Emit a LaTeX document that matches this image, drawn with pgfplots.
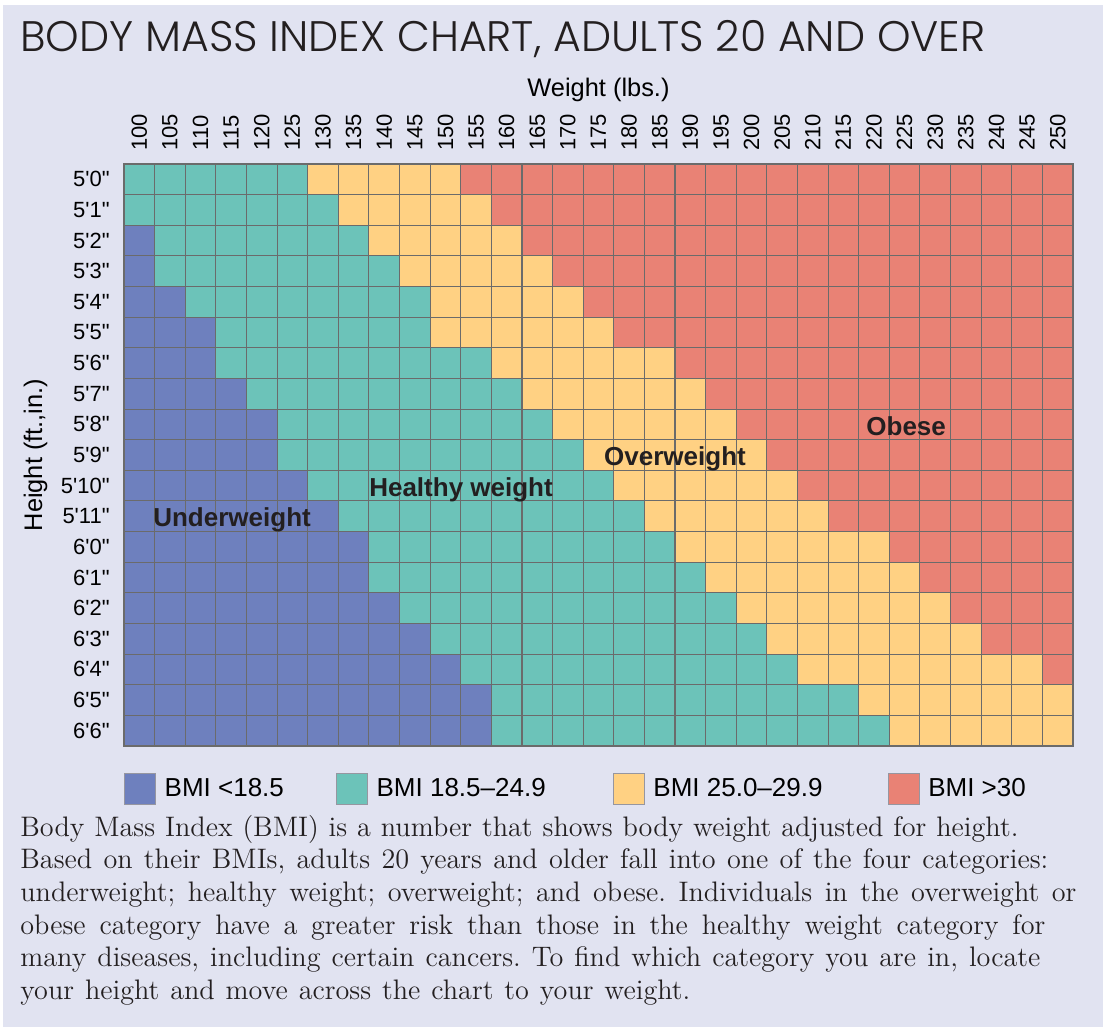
\documentclass[border=0pt]{standalone}
\usepackage{fontspec}
\usepackage{pgfplots}
\pgfplotsset{compat=1.18}
\newfontfamily\lsans{Liberation Sans}
\newfontfamily\titlefont{Poppins Light}
\definecolor{bg}{RGB}{225,227,241}
\definecolor{uw}{RGB}{110,128,190}
\definecolor{hw}{RGB}{108,195,185}
\definecolor{ow}{RGB}{255,209,131}
\definecolor{ob}{RGB}{233,130,117}
\definecolor{gridc}{RGB}{107,107,107}
\definecolor{legb}{RGB}{150,150,160}
\definecolor{ink}{RGB}{35,31,32}
\pgfplotsset{
  mylegend/.style={legend image code/.code={\draw[##1, draw=legb, line width=0.6pt] (0pt,-7.75pt) rectangle (15.5pt,7.75pt);}}
}
\frenchspacing
\begin{document}
\begin{tikzpicture}
\useasboundingbox (0pt,0pt) rectangle (551.5pt,-513.5pt);
\fill[white] (0pt,0pt) rectangle (551.5pt,-513.5pt);
\fill[bg] (1.5pt,-2.5pt) rectangle (551.5pt,-513.5pt);
\node[anchor=base west, inner sep=0pt, text=ink, font=\titlefont\fontsize{21.5}{24}\selectfont] at (10pt,-26pt) {\resizebox{482.5pt}{!}{BODY MASS INDEX CHART, ADULTS 20 AND OVER}};
\begin{axis}[
  at={(62pt,-82pt)}, anchor=north west,
  scale only axis, width=474.5pt, height=291pt,
  xbar stacked, bar width=1,
  xmin=0, xmax=31, ymin=-0.5, ymax=18.5,
  xtick={0.5,1.5,...,30.5},
  xticklabels={100,105,110,115,120,125,130,135,140,145,150,155,160,165,170,175,180,185,190,195,200,205,210,215,220,225,230,235,240,245,250},
  xticklabel pos=upper,
  xticklabel shift=6.5pt,
  xticklabel style={rotate=90, anchor=west, inner sep=0pt},
  ytick={0,1,...,18},
  yticklabels={6\textquotesingle6",6\textquotesingle5",6\textquotesingle4",6\textquotesingle3",6\textquotesingle2",6\textquotesingle1",6\textquotesingle0",5\textquotesingle11",5\textquotesingle10",5\textquotesingle9",5\textquotesingle8",5\textquotesingle7",5\textquotesingle6",5\textquotesingle5",5\textquotesingle4",5\textquotesingle3",5\textquotesingle2",5\textquotesingle1",5\textquotesingle0"},
  yticklabel shift=7pt,
  yticklabel style={anchor=east, inner sep=0pt},
  tick label style={font=\lsans\fontsize{11}{13}\selectfont, text=black},
  /pgf/number format/assume math mode=true,
  major tick length=0pt, minor tick length=0pt,
  minor xtick={1,2,...,30},
  minor ytick={0.5,1.5,...,17.5},
  xminorgrids=true, yminorgrids=true,
  minor grid style={draw=gridc, line width=0.55pt},
  axis line style={draw=gridc, line width=0.8pt},
  axis on top,
  every axis x label/.style={at={(axis description cs:0.5,1)}, anchor=base, yshift=33.5pt, font=\lsans\fontsize{12.7}{15}\selectfont},
  every axis y label/.style={at={(axis description cs:0,0.5)}, rotate=90, anchor=base, yshift=41pt, font=\lsans\fontsize{12.7}{15}\selectfont},
  xlabel={Weight (lbs.)},
  ylabel={Height (ft.,in.)},
  legend cell align=left,
  legend style={at={(axis description cs:0,0)}, anchor=north west, yshift=-13.5pt,
    draw=none, fill=none, inner sep=0pt, outer sep=0pt, legend columns=4,
    font=\lsans\fontsize{13}{15}\selectfont, nodes={inner sep=0pt},
    /tikz/every odd column/.append style={column sep=4.25pt},
    /tikz/column 2/.append style={column sep=26pt},
    /tikz/column 4/.append style={column sep=33.5pt},
    /tikz/column 6/.append style={column sep=32.5pt}},
]
\addplot[fill=uw, draw=none, mylegend] coordinates {(0,18) (0,17) (1,16) (1,15) (2,14) (3,13) (3,12) (4,11) (5,10) (5,9) (6,8) (7,7) (8,6) (8,5) (9,4) (10,3) (11,2) (12,1) (12,0)};
\addlegendentry{BMI <18.5}
\addplot[fill=hw, draw=none, mylegend] coordinates {(6,18) (7,17) (7,16) (8,15) (8,14) (7,13) (9,12) (9,11) (9,10) (10,9) (10,8) (10,7) (10,6) (11,5) (11,4) (11,3) (11,2) (12,1) (13,0)};
\addlegendentry{BMI 18.5–24.9}
\addplot[fill=ow, draw=none, mylegend] coordinates {(5,18) (5,17) (5,16) (5,15) (5,14) (6,13) (6,12) (6,11) (6,10) (6,9) (6,8) (6,7) (7,6) (7,5) (7,4) (7,3) (8,2) (7,1) (6,0)};
\addlegendentry{BMI 25.0–29.9}
\addplot[fill=ob, draw=none, mylegend] coordinates {(20,18) (19,17) (18,16) (17,15) (16,14) (15,13) (13,12) (12,11) (11,10) (10,9) (9,8) (8,7) (6,6) (5,5) (4,4) (3,3) (1,2) (0,1) (0,0)};
\addlegendentry{BMI >30}
\coordinate (labU) at (axis cs:3.53,7);
\coordinate (labH) at (axis cs:11.01,8);
\coordinate (labO) at (axis cs:18.0,9);
\coordinate (labOb) at (axis cs:25.55,10);
\end{axis}
\begin{scope}[every node/.style={font=\lsans\bfseries\fontsize{13}{15}\selectfont, text=ink, inner sep=0pt, yshift=-2pt}]
\node at (labU) {Underweight};
\node at (labH) {Healthy weight};
\node at (labO) {Overweight};
\node at ([yshift=1pt]labOb) {Obese};
\end{scope}
\begin{scope}[every node/.style={anchor=base west, inner sep=0pt, text=ink, font=\rmfamily\fontsize{14.1}{16}\selectfont}]
\node at (10pt,-418pt) {\makebox[499pt][s]{Body Mass Index (BMI) is a number that shows body weight adjusted for height.}};
\node at (10pt,-434.35pt) {\makebox[514pt][s]{Based on their BMIs, adults 20 years and older fall into one of the four categories:}};
\node at (10pt,-450.7pt) {\makebox[528pt][s]{underweight; healthy weight; overweight; and obese. Individuals in the overweight or}};
\node at (10pt,-467.05pt) {\makebox[512.5pt][s]{obese category have a greater risk than those in the healthy weight category for}};
\node at (10pt,-483.4pt) {\makebox[510pt][s]{many diseases, including certain cancers. To find which category you are in, locate}};
\node at (10pt,-499.75pt) {\makebox[335pt][s]{your height and move across the chart to your weight.}};
\end{scope}
\end{tikzpicture}
\end{document}
